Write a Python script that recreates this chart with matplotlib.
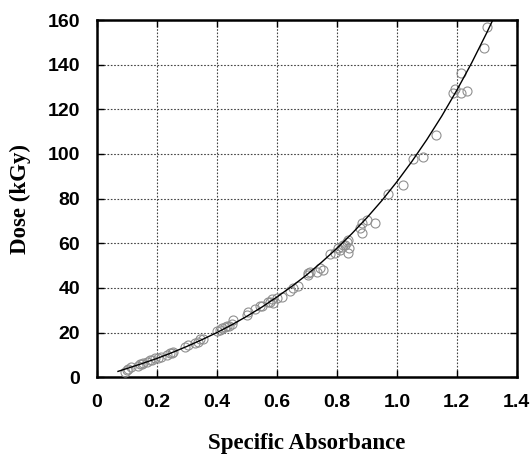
import matplotlib
matplotlib.use("Agg")
import matplotlib.pyplot as plt

# measured points (specific absorbance, dose kGy)
absorbance = [0.093, 0.100, 0.104, 0.115, 0.138, 0.143, 0.150, 0.153, 0.166, 0.177,
              0.183, 0.193, 0.204, 0.215, 0.232, 0.243, 0.249, 0.255, 0.293, 0.304,
              0.327, 0.337, 0.345, 0.354, 0.400, 0.410, 0.417, 0.427, 0.433, 0.440,
              0.450, 0.453, 0.500, 0.503, 0.527, 0.543, 0.550, 0.570, 0.577, 0.583,
              0.587, 0.600, 0.617, 0.643, 0.653, 0.670, 0.703, 0.705, 0.710, 0.733,
              0.743, 0.753, 0.777, 0.793, 0.803, 0.810, 0.817, 0.820, 0.827, 0.833,
              0.837, 0.837, 0.840, 0.877, 0.883, 0.883, 0.900, 0.927, 0.970, 1.020,
              1.053, 1.087, 1.130, 1.187, 1.193, 1.213, 1.213, 1.233, 1.290, 1.300]
dose = [2.5, 3.1, 3.6, 4.5, 5.2, 5.8, 6.0, 6.3, 6.8, 7.6,
        7.8, 8.5, 8.6, 9.0, 10.0, 10.8, 11.0, 11.2, 13.7, 14.3,
        15.4, 15.8, 17.0, 17.3, 20.5, 21.2, 22.0, 22.4, 22.9, 23.0,
        23.8, 25.6, 27.8, 29.1, 30.5, 32.0, 31.8, 33.6, 33.8, 35.2,
        33.4, 35.4, 35.9, 38.5, 39.9, 41.0, 46.0, 46.6, 47.1, 47.1,
        48.9, 48.0, 55.2, 55.6, 57.8, 57.0, 58.3, 59.0, 59.2, 60.5,
        55.6, 61.4, 58.0, 66.8, 64.6, 69.0, 70.4, 69.0, 82.0, 86.0,
        97.8, 98.7, 108.5, 127.4, 129.0, 136.2, 127.4, 128.3, 147.5, 157.0]

# calibration curve
fit_x = [0.07, 0.10, 0.15, 0.20, 0.25, 0.30, 0.35, 0.40, 0.45, 0.50, 0.55, 0.60, 0.65,
         0.70, 0.75, 0.80, 0.85, 0.90, 0.95, 1.00, 1.05, 1.10, 1.15, 1.20, 1.25, 1.30, 1.32]
fit_y = [2.6, 3.9, 6.1, 8.4, 11.0, 13.8, 16.8, 20.0, 23.5, 27.3, 31.4, 35.9, 40.7,
         45.9, 51.6, 57.7, 64.3, 71.4, 79.1, 87.5, 96.6, 106.4, 117.0, 128.5, 140.9, 154.3, 160.0]

x_ticks = [0, 0.2, 0.4, 0.6, 0.8, 1.0, 1.2, 1.4]
x_labels = ["0", "0.2", "0.4", "0.6", "0.8", "1.0", "1.2", "1.4"]
y_ticks = [0, 20, 40, 60, 80, 100, 120, 140, 160]

fig = plt.figure(figsize=(5.3, 4.55), dpi=100)
ax = fig.add_axes([0.183, 0.171, 0.792, 0.785])

ax.plot(absorbance, dose, 'o', mfc='none', mec='#909090', mew=0.8, ms=6.5, zorder=3)
ax.plot(fit_x, fit_y, '-', color='black', lw=1.0, zorder=4)

ax.set_xlim(0, 1.4)
ax.set_ylim(0, 160)
ax.set_xticks(x_ticks)
ax.set_xticklabels(x_labels)
ax.set_yticks(y_ticks)

ax.grid(True, color='#444444', linestyle=(0, (1.5, 1.5)), linewidth=0.8)
ax.set_axisbelow(True)

for s in ax.spines.values():
    s.set_linewidth(1.8)

ax.tick_params(direction='in', length=5, width=1, top=True, right=True)
ax.tick_params(axis='x', pad=12)
ax.tick_params(axis='y', pad=12)
for lab in ax.get_xticklabels() + ax.get_yticklabels():
    lab.set_family('Liberation Sans')
    lab.set_fontweight('bold')
    lab.set_fontsize(14)

ax.set_xlabel("Specific Absorbance", family='Liberation Serif', fontweight='bold',
              fontsize=16.5, labelpad=16)
ax.set_ylabel("Dose (kGy)", family='Liberation Serif', fontweight='bold',
              fontsize=16.5, labelpad=12)

fig.savefig("out.png", dpi=100)
